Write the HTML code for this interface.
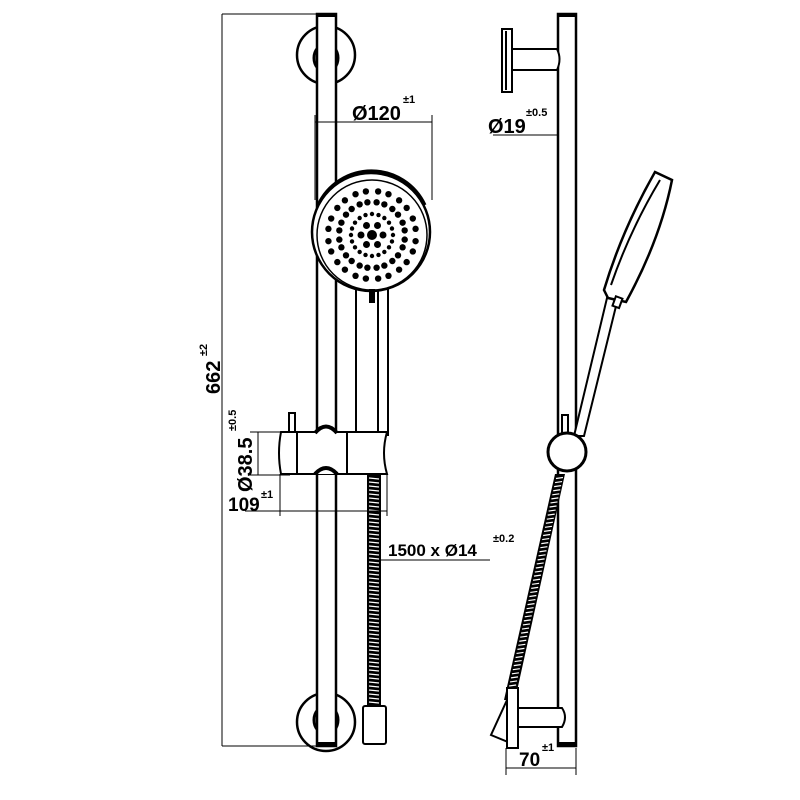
<!DOCTYPE html>
<html><head><meta charset="utf-8"><style>
html,body{margin:0;padding:0;background:#fff;}
svg{display:block}
text{font-family:"Liberation Sans",Arial,sans-serif;font-weight:bold;fill:#000}
</style></head><body>
<svg id="s" width="800" height="800" viewBox="0 0 800 800" xmlns="http://www.w3.org/2000/svg">
<g fill="none" stroke="#000" stroke-width="2.5">
  <circle cx="326" cy="55" r="29"/>
  <ellipse cx="326" cy="58" rx="12" ry="14" stroke-width="3"/>
  <circle cx="326" cy="722" r="29"/>
  <ellipse cx="326" cy="720" rx="12" ry="14" stroke-width="3"/>
</g>
<rect x="317" y="14" width="19" height="732" fill="#fff" stroke="#000" stroke-width="2.5"/>
<rect x="317" y="13" width="19" height="4" fill="#000"/>
<rect x="317" y="742" width="19" height="4" fill="#000"/>
<g fill="#fff" stroke="#000" stroke-width="2">
  <rect x="356" y="285" width="32" height="150"/>
  <line x1="378" y1="290" x2="378" y2="435"/>
</g>
<circle cx="371" cy="232" r="59" fill="#fff" stroke="#000" stroke-width="2.5"/>
<path d="M318 205 A59 59 0 0 1 425 205" fill="none" stroke="#000" stroke-width="3"/>
<circle cx="372" cy="235" r="55" fill="none" stroke="#000" stroke-width="1.5"/>
<g id="dots" fill="#000"></g>
<rect x="369" y="289" width="6" height="14" fill="#000"/>
<rect x="367" y="474" width="14" height="232" fill="#000"/>
<g id="hoseL" stroke="#fff" stroke-width="1.2"></g>
<rect x="363" y="706" width="23" height="38" rx="2" fill="#fff" stroke="#000" stroke-width="2"/>
<g fill="#fff" stroke="#000" stroke-width="2">
  <rect x="289" y="413" width="6" height="20"/>
  <path d="M281 432 L387 432 Q381 453 387 474 L281 474 Q277 453 281 432 Z"/>
  <line x1="297" y1="432" x2="297" y2="474"/>
  <line x1="347" y1="432" x2="347" y2="474"/>
  <path d="M315 433 Q326 420 337 433" stroke-width="4"/>
  <path d="M315 474 Q326 462 337 474" stroke-width="4"/>
</g>
<g stroke="#000" stroke-width="1" fill="none">
  <line x1="222" y1="14" x2="222" y2="746"/>
  <line x1="222" y1="14" x2="316" y2="14"/>
  <line x1="222" y1="746" x2="316" y2="746"/>
  <line x1="315" y1="115" x2="315" y2="200"/>
  <line x1="432" y1="115" x2="432" y2="200"/>
  <line x1="315" y1="122" x2="432" y2="122"/>
  <line x1="250" y1="432" x2="290" y2="432"/>
  <line x1="250" y1="475" x2="290" y2="475"/>
  <line x1="258" y1="432" x2="258" y2="475"/>
  <line x1="245" y1="511" x2="387" y2="511"/>
  <line x1="280" y1="474" x2="280" y2="516"/>
  <line x1="387" y1="474" x2="387" y2="516"/>
  <line x1="380" y1="560" x2="490" y2="560"/>
  <line x1="493" y1="135" x2="576" y2="135"/>
  <line x1="506" y1="748" x2="506" y2="775"/>
  <line x1="576" y1="748" x2="576" y2="775"/>
  <line x1="506" y1="768" x2="576" y2="768"/>
</g>
<text x="352" y="120" font-size="20">Ø120</text><text x="403" y="103" font-size="11">±1</text>
<text x="488" y="133" font-size="20">Ø19</text><text x="526" y="116" font-size="11">±0.5</text>
<text x="388" y="556" font-size="17">1500 x Ø14</text><text x="493" y="542" font-size="11">±0.2</text>
<text x="228" y="511" font-size="19">109</text><text x="261" y="498" font-size="11">±1</text>
<text x="519" y="766" font-size="19">70</text><text x="542" y="751" font-size="11">±1</text>
<text transform="translate(220,394) rotate(-90)" font-size="20">662</text>
<text transform="translate(207,356) rotate(-90)" font-size="11">±2</text>
<text transform="translate(252,492) rotate(-90)" font-size="20">Ø38.5</text>
<text transform="translate(236,431) rotate(-90)" font-size="11">±0.5</text>
<rect x="558" y="14" width="18" height="732" fill="#fff" stroke="#000" stroke-width="2.5"/>
<rect x="558" y="13" width="18" height="4" fill="#000"/>
<rect x="558" y="742" width="18" height="4" fill="#000"/>
<g fill="#fff" stroke="#000" stroke-width="2">
  <path d="M512 49 L557 49 Q562 59 557 70 L512 70 Z"/>
  <rect x="502" y="29" width="10" height="63"/>
  <line x1="506" y1="31" x2="506" y2="90"/>
  <path d="M574 436 L607 298 L618 298 L584 436 Z"/>
  <path d="M604 290 Q622 230 655 172 L672 180 Q660 240 626 302 L608 298 Z" stroke-width="2.5"/>
  <path d="M611 285 Q630 230 660 180"/>
  <rect x="614" y="297" width="7" height="10" transform="rotate(20 617 302)"/>
  <rect x="562" y="415" width="6" height="18"/>
  <circle cx="567" cy="452" r="19" stroke-width="3"/>
</g>
<path d="M555 474 L565 474 L515 700 L504 700 Z" fill="#000"/>
<g id="hoseR" stroke="#fff" stroke-width="1.2"></g>
<g fill="#fff" stroke="#000" stroke-width="2">
  <path d="M518 708 L562 708 Q568 717 562 727 L518 727 Z"/>
  <path d="M507 700 L491 735 L508 742 Z"/>
  <rect x="507" y="688" width="11" height="60"/>
</g>
<script>
var NS="http://www.w3.org/2000/svg";
function c(g,x,y,r){var e=document.createElementNS(NS,"circle");e.setAttribute("cx",x);e.setAttribute("cy",y);e.setAttribute("r",r);g.appendChild(e);}
var d=document.getElementById("dots"),cx=372,cy=235;
c(d,cx,cy,5);
for(var i=0;i<6;i++){var a=i*Math.PI/3;c(d,cx+11*Math.cos(a),cy+11*Math.sin(a),3.5);}
for(var i=0;i<20;i++){var a=i*Math.PI/10;c(d,cx+21*Math.cos(a),cy+21*Math.sin(a),2.2);}
for(var i=0;i<12;i++){for(var k=0;k<2;k++){var a=i*Math.PI/6+(k?0.14:-0.14);[33,44].forEach(function(r){c(d,cx+r*Math.cos(a),cy+r*Math.sin(a),3.2);});}}
function l(g,x1,y1,x2,y2){var e=document.createElementNS(NS,"line");e.setAttribute("x1",x1);e.setAttribute("y1",y1);e.setAttribute("x2",x2);e.setAttribute("y2",y2);g.appendChild(e);}
var h=document.getElementById("hoseL");
for(var y=478;y<704;y+=4)l(h,369,y,379,y+1);
var hr=document.getElementById("hoseR");
for(var t=0.02;t<1;t+=0.018){var xa=555+(504-555)*t,ya=474+226*t;l(hr,xa+2,ya,xa+9,ya-1);}
</script>
</svg>
</body></html>
